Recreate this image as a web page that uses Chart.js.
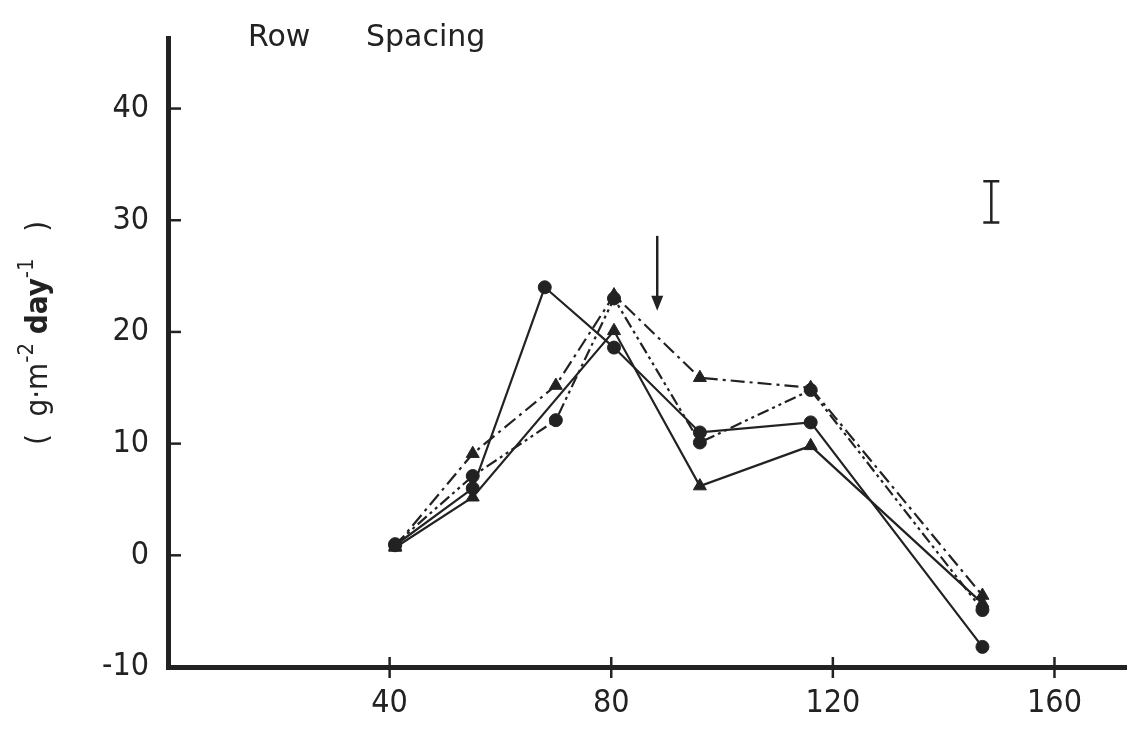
<!DOCTYPE html>
<html><head><meta charset="utf-8">
<script src="https://cdn.jsdelivr.net/npm/chart.js@4.4.1/dist/chart.umd.min.js"></script>
<style>html,body{margin:0;padding:0;background:#fff}#wrap{width:1135px;height:731px;position:relative}</style>
</head><body><div id="wrap"><canvas id="c"></canvas></div>
<script>
// ---- data ----
const xTicks = [40, 80, 120, 160];
const yTicks = [-10, 0, 10, 20, 30, 40];
const daysSolidCircle   = [41, 55, 68, 80.5, 96, 116, 147];
const valsSolidCircle   = [0.9, 6.0, 24.0, 18.6, 11.0, 11.9, -8.2];
const daysSolidTriangle = [41, 55, 80.5, 96, 116, 147];
const valsSolidTriangle = [0.7, 5.2, 20.1, 6.2, 9.8, -4.3];
const daysDashTriangle  = [41, 55, 70, 80.5, 96, 116, 147];
const valsDashTriangle  = [0.8, 9.1, 15.2, 23.3, 15.9, 15.0, -3.6];
const daysDotCircle     = [41, 55, 70, 80.5, 96, 116, 147];
const valsDotCircle     = [1.0, 7.1, 12.1, 23.0, 10.1, 14.8, -4.9];
const arrowDay = 88.3, arrowFrom = 28.6, arrowTo = 21.9;
const errDay = 148.6, errLow = 29.8, errHigh = 33.5;
const titleWords = ['Row', 'Spacing'];

const INK = '#222';
const FONT = "'DejaVu Sans Condensed','Liberation Sans Narrow','DejaVu Sans',sans-serif";
const FONT2 = "'DejaVu Sans',sans-serif";

function pts(xs, ys) { return xs.map((d, i) => ({ x: d, y: ys[i] })); }

function ds(xs, ys, style, dash, r) {
  return {
    data: pts(xs, ys), showLine: true, borderColor: INK, backgroundColor: INK,
    borderWidth: 2.2, borderDash: dash, pointStyle: style, pointRadius: r,
    pointBorderWidth: 1, pointBorderColor: INK, pointBackgroundColor: INK, clip: false
  };
}

const deco = {
  id: 'deco',
  afterDraw(chart) {
    const { ctx, chartArea: ca, scales: { x, y } } = chart;
    ctx.save();
    ctx.strokeStyle = INK; ctx.fillStyle = INK; ctx.lineWidth = 2.5;
    // y tick marks (inside)
    yTicks.forEach(v => {
      if (v === yTicks[0]) return;
      const py = y.getPixelForValue(v);
      ctx.beginPath(); ctx.moveTo(ca.left, py); ctx.lineTo(ca.left + 13, py); ctx.stroke();
    });
    // x tick marks (crossing)
    xTicks.forEach(v => {
      const px = x.getPixelForValue(v);
      ctx.beginPath(); ctx.moveTo(px, ca.bottom - 10); ctx.lineTo(px, ca.bottom + 11); ctx.stroke();
    });
    // arrow
    const ax = x.getPixelForValue(arrowDay), a1 = y.getPixelForValue(arrowFrom), a2 = y.getPixelForValue(arrowTo);
    ctx.lineWidth = 2.5;
    ctx.beginPath(); ctx.moveTo(ax, a1); ctx.lineTo(ax, a2 - 12); ctx.stroke();
    ctx.beginPath(); ctx.moveTo(ax - 6, a2 - 15); ctx.lineTo(ax + 6, a2 - 15); ctx.lineTo(ax, a2); ctx.closePath(); ctx.fill();
    // error bar
    const ex = x.getPixelForValue(errDay), e1 = y.getPixelForValue(errLow), e2 = y.getPixelForValue(errHigh);
    ctx.lineWidth = 2.5;
    ctx.beginPath();
    ctx.moveTo(ex, e1); ctx.lineTo(ex, e2);
    ctx.moveTo(ex - 8, e1); ctx.lineTo(ex + 8, e1);
    ctx.moveTo(ex - 8, e2); ctx.lineTo(ex + 8, e2);
    ctx.stroke();
    // top title
    ctx.font = '30px ' + FONT2; ctx.textBaseline = 'alphabetic'; ctx.textAlign = 'left';
    ctx.fillText(titleWords[0], 248, 46);
    ctx.fillText(titleWords[1], 366, 46);
    // y axis title (rotated, with superscripts)
    ctx.translate(47, 333); ctx.rotate(-Math.PI / 2);
    const parts = [
      { t: '(  g·m', f: '31px ' + FONT, dy: 0 },
      { t: '-2', f: '22px ' + FONT, dy: -14 },
      { t: ' ', f: '31px ' + FONT, dy: 0 },
      { t: 'day', f: 'bold 31px ' + FONT, dy: 0 },
      { t: '-1', f: '22px ' + FONT, dy: -14 },
      { t: '   )', f: '31px ' + FONT, dy: 0 }
    ];
    let total = 0;
    parts.forEach(p => { ctx.font = p.f; p.w = ctx.measureText(p.t).width; total += p.w; });
    let cx = -total / 2;
    parts.forEach(p => { ctx.font = p.f; ctx.fillText(p.t, cx, p.dy); cx += p.w; });
    ctx.restore();
  }
};

new Chart(document.getElementById('c'), {
  type: 'scatter',
  data: {
    datasets: [
      ds(daysSolidCircle, valsSolidCircle, 'circle', [], 6.5),
      ds(daysSolidTriangle, valsSolidTriangle, 'triangle', [], 7.5),
      ds(daysDashTriangle, valsDashTriangle, 'triangle', [14, 5, 3, 5], 7.5),
      ds(daysDotCircle, valsDotCircle, 'circle', [12, 4, 3, 4, 3, 4], 6.5)
    ]
  },
  options: {
    responsive: true, maintainAspectRatio: false, animation: false,
    layout: { padding: { top: 38, right: 5, left: 0, bottom: 0 } },
    plugins: { legend: { display: false }, tooltip: { enabled: false } },
    scales: {
      x: {
        type: 'linear', min: 0, max: 173,
        grid: { display: false, drawTicks: false },
        border: { display: true, color: INK, width: 5 },
        afterBuildTicks: s => { s.ticks = xTicks.map(v => ({ value: v })); },
        afterFit: s => { s.height = 64; },
        ticks: { padding: 17, color: INK, font: { family: FONT, size: 32 } }
      },
      y: {
        type: 'linear', min: -10, max: 46.3,
        grid: { display: false, drawTicks: false },
        border: { display: true, color: INK, width: 5 },
        afterBuildTicks: s => { s.ticks = yTicks.map(v => ({ value: v })); },
        afterFit: s => { s.width = 168; },
        ticks: { padding: 19, color: INK, font: { family: FONT, size: 32 } }
      }
    }
  },
  plugins: [deco]
});
</script></body></html>
